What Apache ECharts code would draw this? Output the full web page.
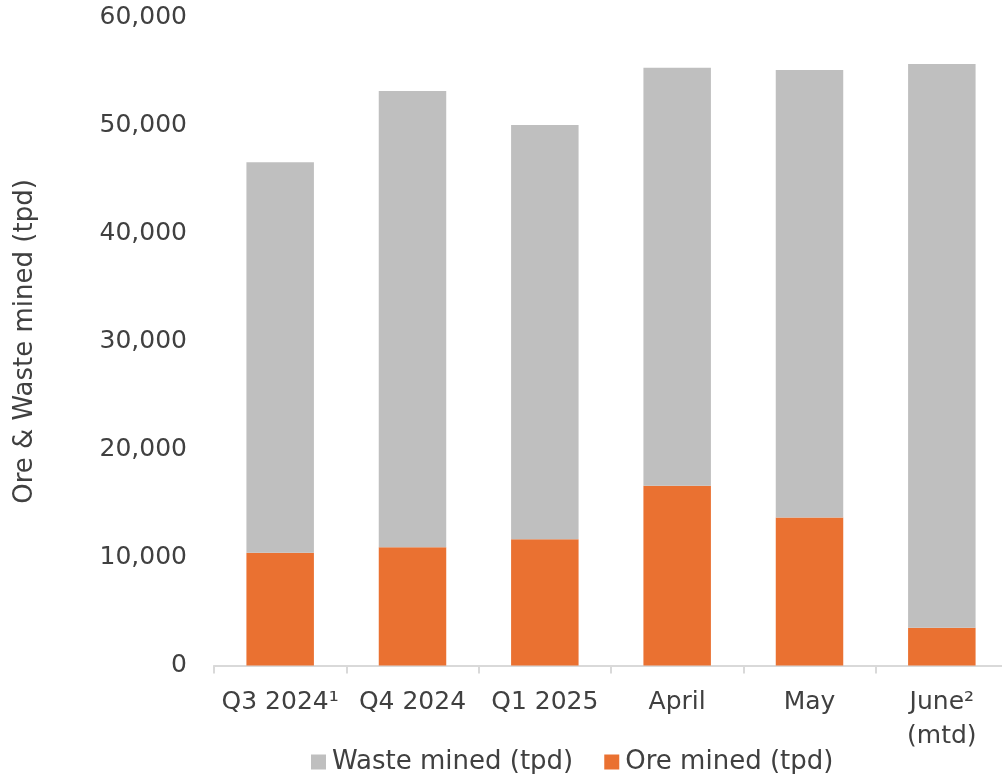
<!DOCTYPE html>
<html>
<head>
<meta charset="utf-8">
<script src="https://cdn.jsdelivr.net/npm/echarts@6/dist/echarts.min.js"></script>
<style>
  html, body { margin: 0; padding: 0; background: #fff; }
  #chart { width: 1002px; height: 774px; }
</style>
</head>
<body>
<div id="chart"></div>
<script>
// 数据
const categories = ["Q3 2024¹", "Q4 2024", "Q1 2025", "April", "May", "June²\n(mtd)"];
const oreMined = [10450, 10950, 11700, 16650, 13700, 3500];
const wasteMined = [36150, 42250, 38350, 38700, 41450, 52200];
const yTicks = { min: 0, max: 60000, interval: 10000 };

const font = "DejaVu Sans";
const textColor = "#404040";

const option = {
  animation: false,
  color: ["#BFBFBF", "#EA7131"],
  grid: {
    left: 214,
    width: 794,
    top: 17.5,
    bottom: 108.5,
    outerBoundsMode: "none",
    containLabel: false,
  },
  legend: {
    data: ["Waste mined (tpd)", "Ore mined (tpd)"],
    top: 744,
    left: 306,
    itemWidth: 15,
    itemHeight: 15,
    itemGap: 31,
    icon: "rect",
    textStyle: { fontFamily: font, fontSize: 26, color: textColor, padding: [0, 0, 0, 1] },
  },
  xAxis: {
    type: "category",
    data: categories,
    axisLine: { lineStyle: { color: "#D9D9D9", width: 2 } },
    axisTick: { show: true, length: 8, lineStyle: { color: "#D9D9D9", width: 2 } },
    axisLabel: {
      fontFamily: font,
      fontSize: 25,
      color: textColor,
      margin: 20,
      lineHeight: 34,
      interval: 0,
    },
  },
  yAxis: {
    type: "value",
    min: yTicks.min,
    max: yTicks.max,
    interval: yTicks.interval,
    name: "Ore & Waste mined (tpd)",
    nameLocation: "middle",
    nameGap: 176,
    nameTextStyle: { fontFamily: font, fontSize: 26, color: textColor },
    axisLine: { show: false },
    axisTick: { show: false },
    splitLine: { show: false },
    axisLabel: {
      fontFamily: font,
      fontSize: 25,
      color: textColor,
      margin: 27,
      formatter: (v) => v.toLocaleString("en-US"),
    },
  },
  series: [
    {
      name: "Ore mined (tpd)",
      type: "bar",
      stack: "total",
      barCategoryGap: "49%",
      data: oreMined,
      itemStyle: { color: "#EA7131" },
    },
    {
      name: "Waste mined (tpd)",
      type: "bar",
      stack: "total",
      barCategoryGap: "49%",
      data: wasteMined,
      itemStyle: { color: "#BFBFBF" },
    },
  ],
};

const myChart = echarts.init(document.getElementById("chart"));
myChart.setOption(option);
window.addEventListener("resize", () => {
  myChart.resize();
});
</script>
</body>
</html>
